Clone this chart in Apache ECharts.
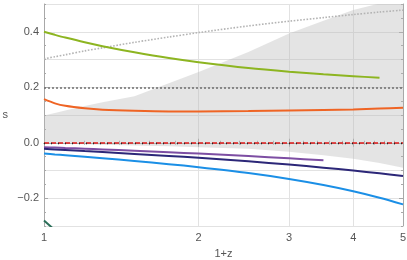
<!DOCTYPE html>
<html><head><meta charset="utf-8">
<script src="https://cdn.jsdelivr.net/npm/echarts@6/dist/echarts.min.js"></script>
<style>html,body{margin:0;padding:0;background:#fff}#c{width:407px;height:260px}</style>
</head><body><div id="c"></div>
<script>
const xs       = [1, 1.05, 1.1, 1.2, 1.3, 1.5, 1.75, 2, 2.5, 3, 3.5, 4, 4.5, 5];
const green    = [0.400, 0.389, 0.379, 0.362, 0.348, 0.326, 0.305, 0.290, 0.269, 0.256, 0.247, 0.240, 0.234, null];
const orange   = [0.157, 0.142, 0.133, 0.124, 0.119, 0.115, 0.113, 0.113, 0.114, 0.116, 0.118, 0.120, 0.123, 0.126];
const grayDot  = [0.302, 0.310, 0.317, 0.331, 0.342, 0.362, 0.381, 0.397, 0.421, 0.438, 0.451, 0.462, 0.471, 0.478];
const bandLow  = [-0.002, -0.003, -0.004, -0.005, -0.007, -0.01, -0.013, -0.016, -0.022, -0.032, -0.045, -0.058, -0.073, -0.09];
const bandHigh = [0.098, 0.107, 0.116, 0.132, 0.146, 0.168, 0.214, 0.255, 0.327, 0.394, 0.44, 0.478, 0.502, 0.53];
const purple   = [-0.016, -0.0174, -0.0188, -0.0214, -0.0239, -0.0286, -0.0341, -0.0391, -0.0481, -0.056, -0.0631, null, null, null];
const navy     = [-0.022, -0.0241, -0.0261, -0.030, -0.0335, -0.0401, -0.0475, -0.0544, -0.067, -0.0787, -0.0897, -0.1002, -0.1103, -0.12];
const blue     = [-0.039, -0.0421, -0.045, -0.0506, -0.0559, -0.0657, -0.0771, -0.088, -0.109, -0.1303, -0.1521, -0.1746, -0.198, -0.222];
const tealX    = [1, 1.05];
const tealY    = [-0.28, -0.315];
const refLines = [0.2, 0.0];
const xMajor = [1, 2, 3, 4, 5];
const xMinor = [1.2,1.4,1.6,1.8,2.2,2.4,2.6,2.8,3.2,3.4,3.6,3.8,4.2,4.4,4.6,4.8];
const yLabels = [-0.2, 0, 0.2, 0.4];

const pairs = (x, y) => x.map((v, i) => [v, y[i]]).filter(p => p[1] !== null);
const frame = '#a8a8a8';
const font = 'Liberation Sans, Arial, sans-serif';
const fmtY = v => (Math.abs(v) < 1e-9 ? '0.0' : (v < 0 ? '\u2212' : '') + Math.abs(v).toFixed(1));

const g = {left: 44, right: 4, top: 4, bottom: 34, containLabel: false, outerBoundsMode: 'none'};
const logAxis = (extra) => Object.assign({type: 'log', logBase: 10, min: 1, max: 5,
  axisLine: {show: true, lineStyle: {color: frame, width: 1}},
  axisLabel: {show: false}, splitLine: {show: false}}, extra);
const valAxis = (extra) => Object.assign({type: 'value', min: -0.3, max: 0.5,
  axisLine: {show: true, lineStyle: {color: frame, width: 1}},
  axisLabel: {show: false}, splitLine: {show: false}}, extra);

const line = (data, color, width, type, extra) => Object.assign({
  type: 'line', xAxisIndex: 0, yAxisIndex: 0, data, showSymbol: false, smooth: 0.3,
  lineStyle: {color, width, type: type || 'solid'}, silent: true, animation: false}, extra || {});

const option = {
  animation: false,
  grid: [Object.assign({}, g), Object.assign({}, g)],
  xAxis: [
    logAxis({gridIndex: 0, position: 'bottom',
      axisTick: {show: true, inside: true, length: 4, customValues: xMajor, lineStyle: {color: frame}},
      axisLabel: {show: true, customValues: xMajor, color: '#555', fontSize: 11, fontFamily: font, margin: 6},
      splitLine: {show: true, lineStyle: {color: '#e2e2e2', width: 1}},
      name: '1+z', nameLocation: 'middle', nameGap: 22,
      nameTextStyle: {color: '#555', fontSize: 11, fontFamily: font}}),
    logAxis({gridIndex: 0, position: 'top',
      axisTick: {show: true, inside: true, length: 4, customValues: xMajor, lineStyle: {color: frame}}}),
    logAxis({gridIndex: 1, position: 'bottom', axisLine: {show: false},
      axisTick: {show: true, inside: true, length: 2, customValues: xMinor, lineStyle: {color: frame}}}),
    logAxis({gridIndex: 1, position: 'top', axisLine: {show: false},
      axisTick: {show: true, inside: true, length: 2, customValues: xMinor, lineStyle: {color: frame}}})
  ],
  yAxis: [
    valAxis({gridIndex: 0, position: 'left', interval: 0.1,
      axisTick: {show: true, inside: true, length: 4, customValues: yLabels, lineStyle: {color: frame}},
      axisLabel: {show: true, customValues: yLabels, formatter: fmtY, color: '#555', fontSize: 11, fontFamily: font, margin: 5},
      name: 's', nameLocation: 'middle', nameRotate: 0, nameGap: 36,
      nameTextStyle: {color: '#555', fontSize: 11, fontFamily: font}}),
    valAxis({gridIndex: 0, position: 'right', interval: 0.1,
      axisTick: {show: true, inside: true, length: 4, customValues: yLabels, lineStyle: {color: frame}}}),
    valAxis({gridIndex: 1, position: 'left', interval: 0.1, axisLine: {show: false},
      axisTick: {show: true, inside: true, length: 2, lineStyle: {color: frame}},
      minorTick: {show: true, splitNumber: 2, length: 2, lineStyle: {color: frame}},
      splitLine: {show: true, lineStyle: {color: '#e2e2e2', width: 1}}}),
    valAxis({gridIndex: 1, position: 'right', interval: 0.1, axisLine: {show: false},
      axisTick: {show: true, inside: true, length: 2, lineStyle: {color: frame}},
      minorTick: {show: true, splitNumber: 2, length: 2, lineStyle: {color: frame}}})
  ],
  series: [
    {type: 'custom', xAxisIndex: 0, yAxisIndex: 0, clip: true, silent: true, z: 1,
      data: xs.map((x, i) => [x, bandLow[i], bandHigh[i]]),
      encode: {x: 0, y: [1, 2]},
      renderItem: (params, api) => {
        if (params.dataIndex !== 0) return null;
        const top = xs.map((x, i) => api.coord([x, bandHigh[i]]));
        const bot = xs.map((x, i) => api.coord([x, bandLow[i]])).reverse();
        return {type: 'polygon', shape: {points: top.concat(bot)},
          style: {fill: 'rgba(185,185,185,0.38)', stroke: null}};
      }},
    line(pairs(xs, grayDot), '#b4b4b4', 1.6, [1.6, 1.6]),
    line([], '#777', 1, 'solid', {markLine: {silent: true, symbol: 'none', label: {show: false},
      lineStyle: {color: '#6e6e6e', width: 1.6, type: [2, 2]}, data: [{yAxis: refLines[0]}]}}),
    line(pairs(xs, green), '#8db521', 2),
    line(pairs(xs, orange), '#ef6424', 2),
    line(pairs(xs, purple), '#7d4ea3', 2),
    line(pairs(xs, navy), '#2c2778', 2),
    line(pairs(xs, blue), '#1b8fe6', 2),
    line(pairs(tealX, tealY), '#2a6e58', 2, 'solid', {smooth: false}),
    line([], '#e01a1a', 1, 'solid', {z: 5, markLine: {silent: true, symbol: 'none', label: {show: false},
      lineStyle: {color: '#e01a1a', width: 1.6, type: [5, 2]}, data: [{yAxis: refLines[1]}]}}),
    line([], '#111', 1, 'solid', {z: 6, markLine: {silent: true, symbol: 'none', label: {show: false},
      lineStyle: {color: '#222', width: 1.4, type: [1, 6]}, data: [{yAxis: refLines[1]}]}})
  ]
};
const chart = echarts.init(document.getElementById('c'), null, {renderer: 'canvas'});
chart.setOption(option);
</script></body></html>
